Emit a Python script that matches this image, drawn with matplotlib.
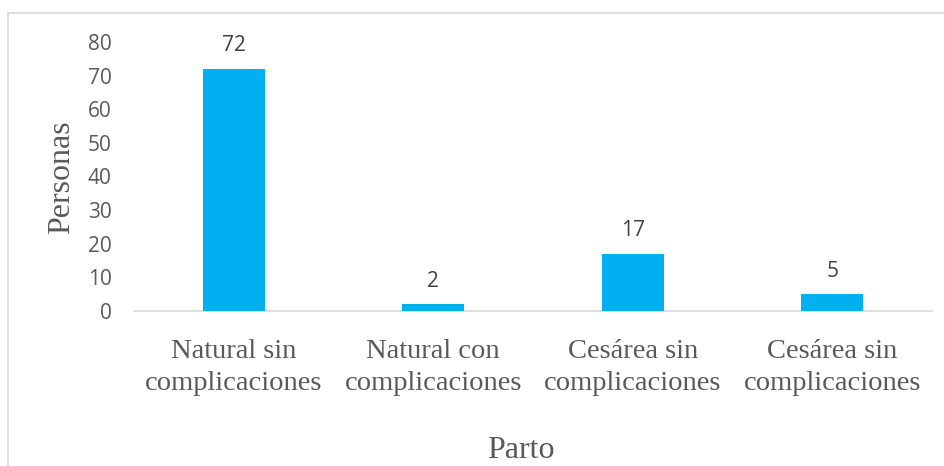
import matplotlib
matplotlib.use("Agg")
import matplotlib.pyplot as plt
from matplotlib.patches import Rectangle

categories = ["Natural sin\ncomplicaciones", "Natural con\ncomplicaciones",
              "Cesárea sin\ncomplicaciones", "Cesárea sin\ncomplicaciones"]
values = [72, 2, 17, 5]
yticks = [0, 10, 20, 30, 40, 50, 60, 70, 80]

W, H = 945, 466
fig = plt.figure(figsize=(W / 100, H / 100), dpi=100)
fig.patch.set_facecolor("white")

# outer chart border (cropped on right/bottom)
fig.patches.append(Rectangle((8 / W, -0.1), 1.2, 1 - 13 / H + 0.1,
                             transform=fig.transFigure, fill=False,
                             edgecolor="#d9d9d9", linewidth=1.2))

ax = fig.add_axes([134 / W, 1 - 311 / H, (932 - 134) / W, (311 - 42) / H])
x = list(range(len(categories)))
bars = ax.bar(x, values, width=0.31, color="#00B0F0", zorder=3)
ax.set_xlim(-0.5, len(categories) - 0.5)
ax.set_ylim(0, 80)
ax.set_yticks(yticks)
ax.set_yticklabels([str(t) for t in yticks], family="Open Sans", fontsize=15, color="#595959")
ax.set_xticks(x)
ax.set_xticklabels(categories, family="Liberation Serif", fontsize=20.5, color="#595959",
                   linespacing=1.38)
ax.tick_params(axis="y", length=0, pad=16)
ax.tick_params(axis="x", length=0, pad=20)
for s in ["top", "right", "left"]:
    ax.spines[s].set_visible(False)
ax.spines["bottom"].set_color("#d9d9d9")
ax.spines["bottom"].set_linewidth(1.2)

for b, v in zip(bars, values):
    ax.annotate(str(v), (b.get_x() + b.get_width() / 2, v), xytext=(0, 9),
                textcoords="offset points", ha="center", va="bottom",
                family="Open Sans", fontsize=15, color="#404040")

fig.text(62 / W, 1 - 177 / H, "Personas", rotation=90, ha="center", va="center",
         family="Liberation Serif", fontsize=23, color="#595959")
fig.text(521 / W, 1 - 450 / H, "Parto", ha="center", va="center",
         family="Liberation Serif", fontsize=23, color="#595959")

fig.savefig("out.png", dpi=100)
